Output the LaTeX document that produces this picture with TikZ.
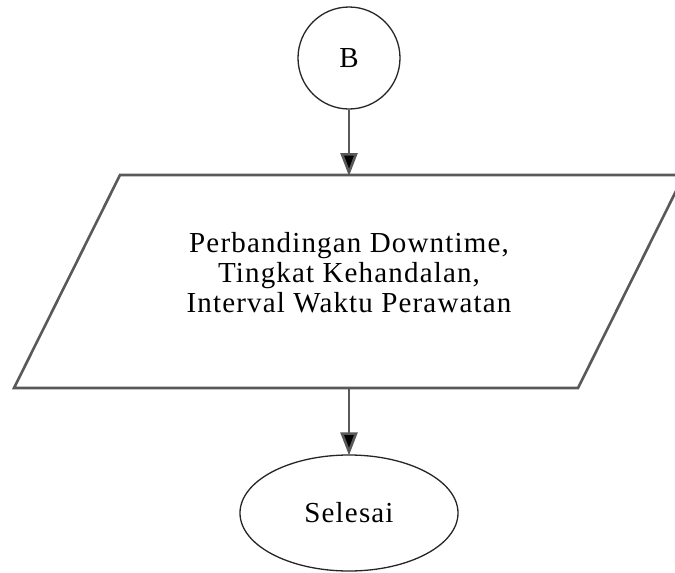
\documentclass[tikz,border=0pt]{standalone}
\usepackage{fontspec}
\setmainfont{Liberation Serif}
\usetikzlibrary{arrows.meta,shapes.geometric}
\begin{document}
\begin{tikzpicture}[x=1pt,y=-1pt,
  flowline/.style={draw=black!65, line width=2.6pt},
  connector/.style={flowline, -{Triangle[length=23pt,width=17pt,fill=black]}, shorten >=-1pt},
  shapeline/.style={draw=black!85, line width=1.3pt},
  label/.style={font=\fontsize{29}{30}\selectfont\addfontfeatures{LetterSpace=4}, text=black, align=center, inner sep=0pt}]
  \useasboundingbox (0,0) rectangle (675,573);
  \clip (0,0) rectangle (675,573);
  \fill[white] (0,0) rectangle (675,573);

  % off-page connector
  \node[circle, shapeline, minimum size=102pt, inner sep=0pt, label] (B) at (349,58) {B};

  % data (input/output) box
  \coordinate (ioTL) at (120,175);
  \coordinate (ioTR) at (684,175);
  \coordinate (ioBR) at (578,388);
  \coordinate (ioBL) at (14,388);
  \coordinate (ioTop) at (349,175);
  \coordinate (ioBot) at (349,388);
  \draw[flowline, line join=miter] (ioTL) -- (ioTR) -- (ioBR) -- (ioBL) -- cycle;
  \node[label] (io) at (349,273) {Perbandingan Downtime,\\Tingkat Kehandalan,\\Interval Waktu Perawatan};

  % terminator
  \node[ellipse, shapeline, minimum width=218pt, minimum height=116pt, inner sep=0pt, label] (end) at (349,513) {Selesai};

  % connectors
  \draw[connector] (B.south) -- (ioTop);
  \draw[connector] (ioBot) -- (end.north);
\end{tikzpicture}
\end{document}
